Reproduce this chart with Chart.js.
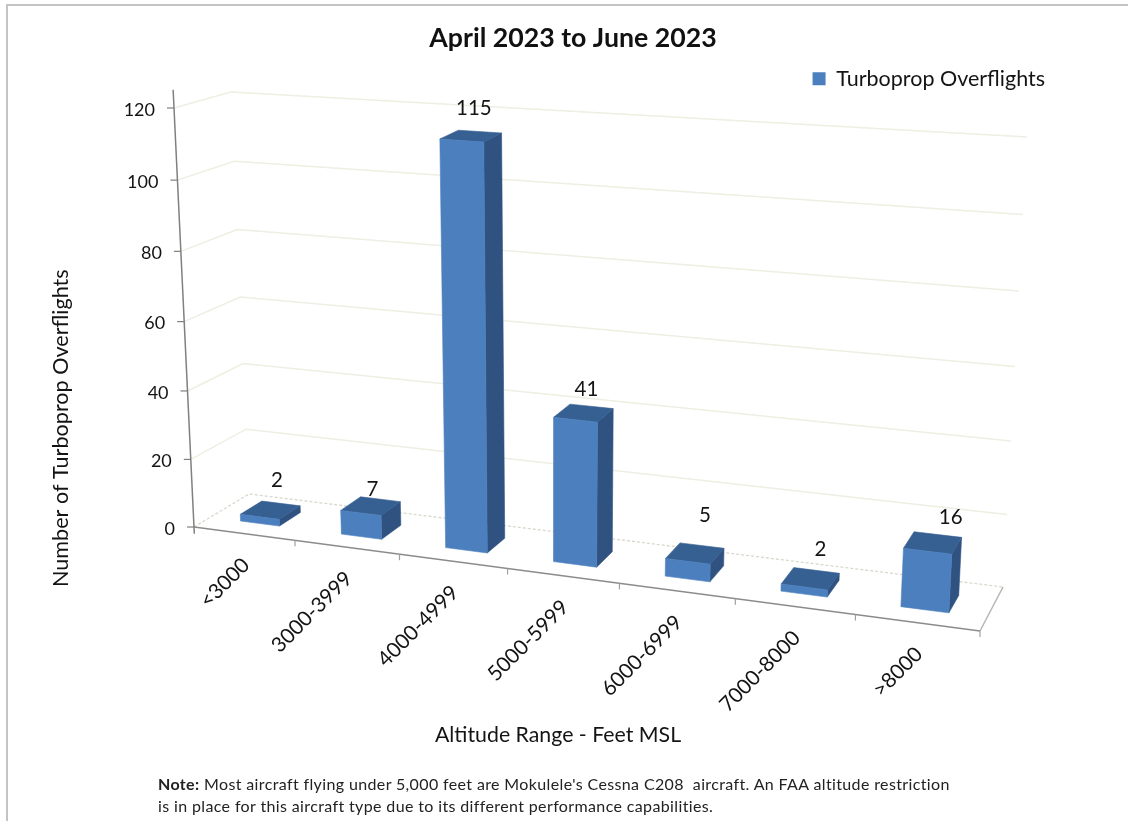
<!DOCTYPE html>
<html lang="en">
<head>
    <meta charset="UTF-8">
    <title>Turboprop Overflights</title>
    <script src="https://cdn.jsdelivr.net/npm/chart.js"></script>
    <style>
        html, body { margin: 0; padding: 0; background: #fff; overflow: hidden; }
        #frame {
            position: absolute; left: 6px; top: 4px; width: 1130px; height: 830px;
            border-left: 2px solid #c4c4c4; border-top: 2px solid #c4c4c4;
        }
        canvas { position: absolute; left: 0; top: 0; }
        #note {
            position: absolute; left: 158px; top: 773px; width: 960px;
            font: 16px/22px Lato, sans-serif; letter-spacing: 0.37px; color: #222; white-space: pre;
        }
    </style>
</head>
<body>
    <div id="frame"></div>
    <canvas id="chart" width="1128" height="821"></canvas>
    <div id="note"><b>Note:</b> Most aircraft flying under 5,000 feet are Mokulele's Cessna C208  aircraft. An FAA altitude restriction
is in place for this aircraft type due to its different performance capabilities.</div>

    <script>
        const categories = ["<3000", "3000-3999", "4000-4999", "5000-5999", "6000-6999", "7000-8000", ">8000"];
        const overflights = [2, 7, 115, 41, 5, 2, 16];
        const yTickValues = [0, 20, 40, 60, 80, 100, 120];
        const seriesName = "Turboprop Overflights";

        const FONT = "Lato, sans-serif";
        const TEXT = "#141414";

        // corners of the 3D box on the page: front/back, left/right, bottom/top
        const corners = {
            flb: [194, 527], flt: [174, 108], frb: [980, 631], frt: [1005, 170],
            blb: [249, 494], blt: [231, 92],  brb: [1003, 587], brt: [1027, 137]
        };
        const DEPTH_FRONT = 0.3, DEPTH_BACK = 0.7;  // where the bars sit on the floor
        const PERSPECTIVE_X = 1.13;                 // columns get wider to the right
        const PERSPECTIVE_Y = 1.04;                 // and steps get taller going up
        // the value labels don't sit at a fixed spot above the bars
        const labelNudge = [[0, 0], [-4, 13], [-2, 0], [-1, 6], [7, -7], [8, 2], [17, 6]];

        const mix = (a, b, k) => [a[0] + (b[0] - a[0]) * k, a[1] + (b[1] - a[1]) * k];
        const warp = (s, k) => s / (s + k * (1 - s));

        // t: 0-1 across, f: 0-1 up, d: 0 front - 1 back
        function project(t, f, d) {
            const u = warp(t, PERSPECTIVE_X), w = warp(f, PERSPECTIVE_Y);
            const c = corners;
            const front = mix(mix(c.flb, c.frb, u), mix(c.flt, c.frt, u), w);
            const back = mix(mix(c.blb, c.brb, u), mix(c.blt, c.brt, u), w);
            return mix(front, back, d);
        }

        function poly(ctx, pts, fill) {
            ctx.beginPath();
            pts.forEach((p, i) => i ? ctx.lineTo(p[0], p[1]) : ctx.moveTo(p[0], p[1]));
            ctx.closePath();
            ctx.fillStyle = fill;
            ctx.strokeStyle = fill;
            ctx.lineWidth = 0.6;
            ctx.fill();
            ctx.stroke();
        }

        function line(ctx, pts, color, width) {
            ctx.beginPath();
            pts.forEach((p, i) => i ? ctx.lineTo(p[0], p[1]) : ctx.moveTo(p[0], p[1]));
            ctx.strokeStyle = color;
            ctx.lineWidth = width;
            ctx.stroke();
        }

        const bars3d = {
            id: "bars3d",
            afterLayout(chart) {
                // title and legend sit independently of the plot box
                chart.titleBlock.left = 18;
                chart.titleBlock.right = 1128;
                const h = chart.legend.bottom - chart.legend.top;
                chart.legend.top = 58;
                chart.legend.bottom = 58 + h;
                chart.legend.right = 1055;
            },
            beforeDatasetsDraw(chart) {
                const ctx = chart.ctx, y = chart.scales.y;
                const frac = v => (y.bottom - y.getPixelForValue(v)) / y.height;
                ctx.save();
                // walls
                y.ticks.forEach(tick => {
                    if (tick.value === 0) return;
                    const f = frac(tick.value);
                    line(ctx, [project(0, f, 0), project(0, f, 1), project(1, f, 1)], "#eeeee2", 1.5);
                });
                // floor
                ctx.setLineDash([3, 2]);
                line(ctx, [project(0, 0, 0), project(0, 0, 1), project(1, 0, 1)], "#d8d8cc", 1.3);
                ctx.setLineDash([]);
                line(ctx, [project(1, 0, 1), project(1, 0, 0)], "#b5b5b5", 1.5);
                line(ctx, [project(0, 0, 0), project(1, 0, 0)], "#8c8c8c", 1.5);
                // x ticks on the front edge
                categories.forEach((c, i) => {
                    const p = project((i + 1) / categories.length, 0, 0);
                    line(ctx, [p, [p[0], p[1] + 6]], "#a0a0a0", 1.2);
                });
                // value axis
                line(ctx, [project(0, frac(125), 0), project(0, frac(-2), 0)], "#808080", 1.5);
                ctx.font = "18px " + FONT;
                ctx.fillStyle = TEXT;
                ctx.textAlign = "right";
                ctx.textBaseline = "middle";
                y.ticks.forEach(tick => {
                    const p = project(0, frac(tick.value), 0);
                    line(ctx, [[p[0] - 7, p[1]], [p[0], p[1]]], "#808080", 1.2);
                    ctx.fillText(tick.label, p[0] - 19, p[1] + 2);
                });
                ctx.restore();
            },
            beforeDatasetDraw(chart, args) {
                const ctx = chart.ctx, a = chart.chartArea;
                const t = px => (px - a.left) / a.width;
                const f = py => (a.bottom - py) / a.height;
                ctx.save();
                args.meta.data.forEach(bar => {
                    const l = t(bar.x - bar.width / 2), r = t(bar.x + bar.width / 2);
                    const top = f(bar.y), z0 = DEPTH_FRONT, z1 = DEPTH_BACK;
                    poly(ctx, [project(r, 0, z0), project(r, 0, z1), project(r, top, z1), project(r, top, z0)], "#2f5280");
                    poly(ctx, [project(l, top, z0), project(r, top, z0), project(r, top, z1), project(l, top, z1)], "#365f92");
                    poly(ctx, [project(l, 0, z0), project(r, 0, z0), project(r, top, z0), project(l, top, z0)], "#4c7fbe");
                });
                ctx.restore();
                return false;
            },
            afterDatasetsDraw(chart) {
                const ctx = chart.ctx, a = chart.chartArea;
                const meta = chart.getDatasetMeta(0);
                ctx.save();
                ctx.fillStyle = TEXT;
                ctx.textAlign = "center";
                ctx.textBaseline = "middle";
                ctx.font = "20.5px " + FONT;
                meta.data.forEach((bar, i) => {
                    const p = project((bar.x - a.left) / a.width, (a.bottom - bar.y) / a.height, DEPTH_BACK);
                    ctx.fillText(overflights[i], p[0] - 4 + labelNudge[i][0], p[1] - 23 + labelNudge[i][1]);
                });
                ctx.font = "20.8px " + FONT;
                ctx.textAlign = "right";
                meta.data.forEach((bar, i) => {
                    const p = project((bar.x - a.left) / a.width, 0, 0);
                    ctx.save();
                    ctx.translate(p[0] + 2, p[1] + 28);
                    ctx.rotate(-Math.PI / 4);
                    ctx.fillText(categories[i], 0, 0);
                    ctx.restore();
                });
                ctx.restore();
            }
        };

        new Chart(document.getElementById("chart"), {
            type: "bar",
            data: {
                labels: categories,
                datasets: [{
                    label: seriesName,
                    data: overflights,
                    backgroundColor: "#4c7fbe",
                    barPercentage: 0.39,
                    categoryPercentage: 1
                }]
            },
            options: {
                responsive: false,
                animation: false,
                layout: { padding: { left: 18, right: 182, top: 0, bottom: 69 } },
                plugins: {
                    title: {
                        display: true,
                        text: "April 2023 to June 2023",
                        color: "#111",
                        font: { family: FONT, size: 26.7, weight: "bold" },
                        padding: { top: 22, bottom: 8 }
                    },
                    legend: {
                        position: "top",
                        align: "end",
                        labels: {
                            color: TEXT,
                            boxWidth: 13,
                            boxHeight: 13,
                            font: { family: FONT, size: 21.5 }
                        }
                    },
                    tooltip: { enabled: false }
                },
                scales: {
                    x: {
                        grid: { display: false },
                        border: { display: false },
                        ticks: { display: false },
                        afterFit: s => { s.height = 165; },
                        title: {
                            display: true,
                            text: "Altitude Range - Feet MSL",
                            color: TEXT,
                            font: { family: FONT, size: 21.3 },
                            padding: { top: 0, bottom: 4 }
                        }
                    },
                    y: {
                        min: 0,
                        max: 120,
                        grid: { display: false },
                        border: { display: false },
                        ticks: { display: false },
                        afterBuildTicks: s => { s.ticks = yTickValues.map(v => ({ value: v })); },
                        afterFit: s => { s.width = 152; },
                        title: {
                            display: true,
                            text: "Number of Turboprop Overflights",
                            color: TEXT,
                            align: "start",
                            font: { family: FONT, size: 21.6 },
                            padding: { top: 30, bottom: 0 }
                        }
                    }
                }
            },
            plugins: [bars3d]
        });
    </script>
</body>
</html>
